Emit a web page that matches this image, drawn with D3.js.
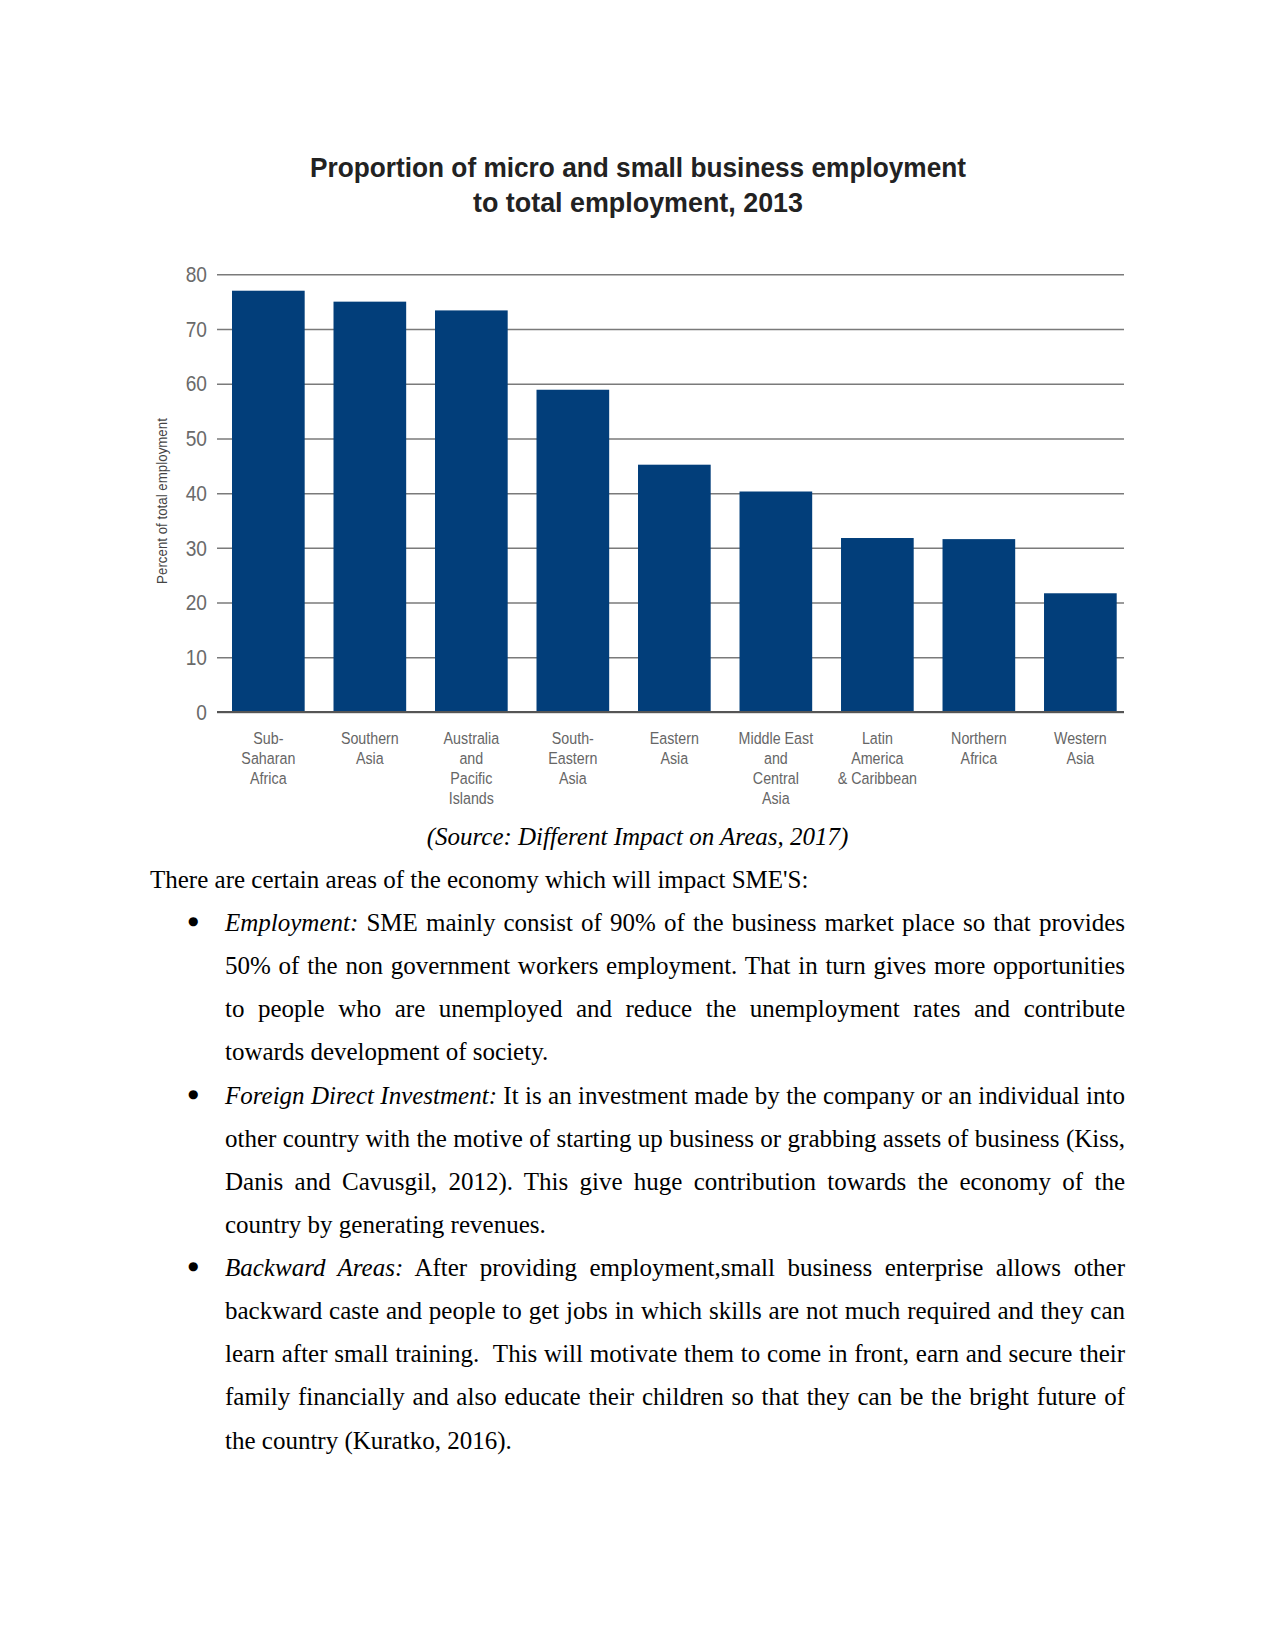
<!DOCTYPE html>
<html>
<head>
<meta charset="utf-8">
<script src="https://cdn.jsdelivr.net/npm/d3@7/dist/d3.min.js"></script>
<style>
  html, body { margin: 0; padding: 0; background: #fff; }
  #page { position: relative; width: 1275px; height: 1650px; overflow: hidden; background: #fff; }
  svg { position: absolute; left: 0; top: 0; }
  .line { position: absolute; font-family: "Liberation Serif", "Times New Roman", serif; font-size: 25px; color: #000; line-height: 43px; height: 43px; white-space: nowrap; }
  .just { text-align: justify; text-align-last: justify; white-space: normal; }
  .bullet { position: absolute; font-family: "DejaVu Sans", sans-serif; font-size: 12px; line-height: 43px; }
</style>
</head>
<body>
<div id="page"></div>
<script>
// ---------- data ----------
const titleLines = ["Proportion of micro and small business employment", "to total employment, 2013"];
const categories = ["Sub-\nSaharan\nAfrica", "Southern\nAsia", "Australia\nand\nPacific\nIslands", "South-\nEastern\nAsia", "Eastern\nAsia", "Middle East\nand\nCentral\nAsia", "Latin\nAmerica\n& Caribbean", "Northern\nAfrica", "Western\nAsia"];
const values = [77.0, 75.0, 73.4, 58.9, 45.2, 40.3, 31.8, 31.6, 21.7];
const yTicks = [0, 10, 20, 30, 40, 50, 60, 70, 80];
const yAxisTitle = "Percent of total employment";
const sourceText = "(Source: Different Impact on Areas, 2017)";
const introText = "There are certain areas of the economy which will impact SME'S:";
const bullets = [
  { head: "Employment:", lines: [
    " SME mainly consist of 90% of the business market place so that provides",
    "50% of the non government workers employment. That in turn gives more opportunities",
    "to people who are unemployed and reduce the unemployment rates and contribute",
    "towards development of society."] },
  { head: "Foreign Direct Investment:", lines: [
    " It is an investment made by the company or an individual into",
    "other country with the motive of starting up business or grabbing assets of business (Kiss,",
    "Danis and Cavusgil, 2012). This give huge contribution towards the economy of the",
    "country by generating revenues."] },
  { head: "Backward Areas:", lines: [
    " After providing employment,small business enterprise allows other",
    "backward caste and people to get jobs in which skills are not much required and they can",
    "learn after small training.  This will motivate them to come in front, earn and secure their",
    "family financially and also educate their children so that they can be the bright future of",
    "the country (Kuratko, 2016)."] }
];

// ---------- chart ----------
const W = 1275, H = 1650;
const page = d3.select("#page");
const svg = page.append("svg").attr("width", W).attr("height", H);

const sans = '"Liberation Sans", Arial, sans-serif';

// title
svg.append("g").selectAll("text").data(titleLines).join("text")
  .attr("x", 638).attr("y", (d, i) => 177 + i * 34.5)
  .attr("text-anchor", "middle")
  .attr("font-family", sans)
  .attr("font-weight", "bold").attr("font-size", 28)
  .attr("fill", "#222")
  .attr("textLength", (d, i) => i === 0 ? 656 : 330)
  .attr("lengthAdjust", "spacingAndGlyphs")
  .text(d => d);

const gridX0 = 217, gridX1 = 1124;
const y = d3.scaleLinear().domain([0, 80]).range([712, 274.3]);
const x = d3.scaleBand().domain(categories).range([232, 1116.7]).paddingInner(0.284).paddingOuter(0);

// grid + y tick labels
const yAxis = d3.axisLeft(y).tickValues(yTicks).tickSizeInner(-(gridX1 - gridX0)).tickSizeOuter(0).tickPadding(0);
const gy = svg.append("g").attr("transform", `translate(${gridX0},0)`).call(yAxis);
gy.select(".domain").remove();
gy.selectAll(".tick line").attr("stroke", "#7a7a7a").attr("stroke-width", 1.5);
gy.selectAll(".tick text")
  .attr("x", 0)
  .attr("transform", "translate(-10,0) scale(0.85,1)")
  .attr("font-family", sans).attr("font-size", 22.5).attr("fill", "#6a6a6a");

// bars
svg.append("g").selectAll("rect").data(values).join("rect")
  .attr("x", (d, i) => x(categories[i]))
  .attr("width", x.bandwidth())
  .attr("y", d => y(d))
  .attr("height", d => y(0) - y(d))
  .attr("fill", "#023e7a");

// zero line
svg.append("line").attr("x1", gridX0).attr("x2", gridX1).attr("y1", y(0)).attr("y2", y(0))
  .attr("stroke", "#555").attr("stroke-width", 2);

// x labels
const xAxis = d3.axisBottom(x).tickSize(0).tickPadding(0).tickFormat(() => "");
const gx = svg.append("g").attr("transform", `translate(0,${y(0)})`).call(xAxis);
gx.select(".domain").remove();
gx.selectAll(".tick text").remove();
gx.selectAll(".tick").each(function(d) {
  const t = d3.select(this).append("text")
    .attr("text-anchor", "middle")
    .attr("transform", "scale(0.84,1)")
    .attr("font-family", sans).attr("font-size", 17).attr("fill", "#666");
  d.split("\n").forEach((ln, i) => {
    t.append("tspan").attr("x", 0).attr("y", 32 + i * 20).text(ln);
  });
});

// y axis title
svg.append("text")
  .attr("transform", "translate(167,501) rotate(-90) scale(0.86,1)")
  .attr("text-anchor", "middle")
  .attr("font-family", sans).attr("font-size", 15.5).attr("fill", "#444")
  .text(yAxisTitle);

// ---------- body text ----------
const LH = 43.13;
const off = 21.5;
page.append("div").attr("class", "line")
  .style("left", "0px").style("width", "1275px").style("text-align", "center")
  .style("top", (836.3 - off) + "px").style("font-style", "italic")
  .text(sourceText);

page.append("div").attr("class", "line")
  .style("left", "150px").style("top", (879.5 - off) + "px")
  .text(introText);

let row = 0;
const firstCenter = 922.5;
bullets.forEach(b => {
  page.append("div").attr("class", "bullet")
    .style("left", "188px").style("top", (firstCenter + row * LH - off - 1) + "px")
    .text("\u25CF");
  b.lines.forEach((ln, i) => {
    const last = i === b.lines.length - 1;
    const div = page.append("div").attr("class", "line" + (last ? "" : " just"))
      .style("left", "225px").style("width", "900px")
      .style("top", (firstCenter + row * LH - off) + "px");
    if (i === 0) {
      div.append("i").text(b.head);
      div.append("span").html(ln.replace(/ {2}/g, " &nbsp;"));
    } else {
      div.html(ln.replace(/ {2}/g, " &nbsp;"));
    }
    row++;
  });
});
</script>
</body>
</html>
